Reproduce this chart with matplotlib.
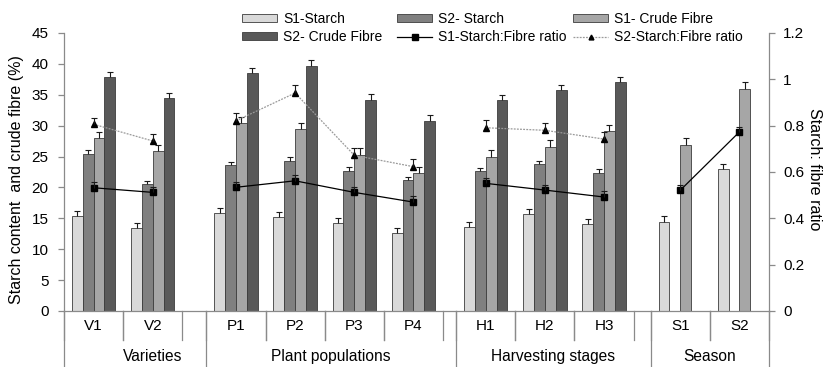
import numpy as np
import matplotlib.pyplot as plt
from matplotlib.patches import Patch
from matplotlib.lines import Line2D
from matplotlib.ticker import FuncFormatter

plt.rcParams['font.family'] = ['Liberation Sans', 'DejaVu Sans']

nan = np.nan

# Categories and groups
categories = ["V1", "V2", "P1", "P2", "P3", "P4", "H1", "H2", "H3", "S1", "S2"]
group_names = ["Varieties", "Plant populations", "Harvesting stages", "Season"]
group_sizes = [2, 4, 3, 2]

# Bars (left axis, %)
s1_starch = [15.4, 13.5, 15.8, 15.2, 14.2, 12.6, 13.6, 15.7, 14.1, 14.45, 23.0]
s1_starch_err = [0.8, 0.75, 0.8, 0.85, 0.86, 0.86, 0.8, 0.8, 0.8, 0.9, 0.8]
s2_starch = [25.4, 20.5, 23.6, 24.3, 22.7, 21.15, 22.6, 23.8, 22.4, nan, nan]
s2_starch_err = [0.65, 0.55, 0.5, 0.6, 0.55, 0.6, 0.5, 0.55, 0.55, nan, nan]
s1_fibre = [27.95, 25.9, 30.5, 29.4, 25.25, 22.3, 25.0, 26.5, 29.1, 26.9, 36.0]
s1_fibre_err = [1.07, 0.97, 0.97, 1.08, 1.1, 1.08, 1.1, 1.1, 1.08, 1.1, 1.1]
s2_fibre = [37.8, 34.4, 38.5, 39.7, 34.2, 30.8, 34.1, 35.7, 37.0, nan, nan]
s2_fibre_err = [0.86, 0.86, 0.9, 0.92, 0.92, 0.92, 0.9, 0.9, 0.9, nan, nan]

# Lines (right axis, ratio)
s1_ratio = [0.532, 0.512, 0.534, 0.562, 0.512, 0.470, 0.551, 0.522, 0.492, 0.521, 0.773]
s1_ratio_err = [0.024, 0.023, 0.022, 0.023, 0.024, 0.026, 0.024, 0.024, 0.024, 0.023, 0.023]
s2_ratio = [0.806, 0.734, 0.821, 0.941, 0.672, 0.623, 0.791, 0.78, 0.742, nan, nan]
s2_ratio_err = [0.028, 0.030, 0.032, 0.035, 0.033, 0.032, 0.033, 0.033, 0.032, nan, nan]

# layout, in category-slot units
BAR_W = 0.183
blank_after = [0.405, 0.22, 0.287, 0.0]
AXIS_GREY = '#8a8a8a'

slot_left = []
group_span = []
pos = 0.0
for size, blank in zip(group_sizes, blank_after):
    start = pos
    for _ in range(size):
        slot_left.append(pos)
        pos += 1
    pos += blank
    group_span.append((start, pos))
slot_left = np.array(slot_left)
centers = slot_left + 0.5
total = pos

fig = plt.figure(figsize=(8.25, 3.67), dpi=100)
ax = fig.add_axes([64 / 825, 1 - 311 / 367, 705 / 825, 278 / 367])
ax2 = ax.twinx()


def up_errorbar(axis, x, y, err, **kw):
    # Excel style "plus" error bars: only the upper whisker and cap
    x, y, err = np.asarray(x), np.asarray(y, float), np.asarray(err, float)
    m = ~np.isnan(y)
    eb = axis.errorbar(x[m], y[m], yerr=[np.zeros(m.sum()), err[m]], fmt='none',
                       ecolor='#1a1a1a', elinewidth=0.8, capsize=2.3, capthick=0.8, **kw)
    eb[1][0].set_visible(False)


bar_series = [
    ("S1-Starch", s1_starch, s1_starch_err, '#d9d9d9'),
    ("S2- Starch", s2_starch, s2_starch_err, '#808080'),
    ("S1- Crude Fibre", s1_fibre, s1_fibre_err, '#a6a6a6'),
    ("S2- Crude Fibre", s2_fibre, s2_fibre_err, '#595959'),
]
for k, (name, vals, errs, color) in enumerate(bar_series):
    x = centers + (k - 1.5) * BAR_W
    vals = np.asarray(vals, float)
    m = ~np.isnan(vals)
    ax.bar(x[m], vals[m], BAR_W, color=color, edgecolor='#3c3c3c', linewidth=0.6, zorder=2)
    up_errorbar(ax, x, vals, errs, zorder=3)

# ratio lines, one segment per group
idx0 = 0
for size in group_sizes:
    sl = slice(idx0, idx0 + size)
    ax2.plot(centers[sl], s1_ratio[sl], color='black', lw=0.9, marker='s', ms=4.5, zorder=4)
    seg = np.asarray(s2_ratio[sl], float)
    if not np.all(np.isnan(seg)):
        ax2.plot(centers[sl], seg, color='#9a9a9a', lw=0.9, linestyle=(0, (1.5, 1)),
                 marker='^', ms=4, mfc='black', mec='black', zorder=4)
    idx0 += size
up_errorbar(ax2, centers, s1_ratio, s1_ratio_err, zorder=5)
up_errorbar(ax2, centers, s2_ratio, s2_ratio_err, zorder=5)

# axes styling
ax.set_xlim(0, total)
ax.set_ylim(0, 45)
ax.set_yticks(np.arange(0, 46, 5))
ax2.set_ylim(0, 1.2)
ax2.set_yticks(np.arange(0, 1.21, 0.2))
ax2.yaxis.set_major_formatter(FuncFormatter(lambda v, p: f'{v:g}'))
ax.set_xticks([])

for a in (ax, ax2):
    for s in a.spines.values():
        s.set_visible(False)
ax.spines['left'].set_visible(True)
ax.spines['bottom'].set_visible(True)
ax2.spines['right'].set_visible(True)
for s in (ax.spines['left'], ax.spines['bottom'], ax2.spines['right']):
    s.set_color(AXIS_GREY)
    s.set_linewidth(0.9)
ax.tick_params(axis='y', direction='out', length=4, width=0.9, color=AXIS_GREY,
               labelsize=11, pad=7)
ax2.tick_params(axis='y', direction='out', length=4, width=0.9, color=AXIS_GREY,
                labelsize=11, pad=6)

# multi-level category axis
trans = ax.get_xaxis_transform()
for left in slot_left:
    for xe in (left, left + 1):
        ax.plot([xe, xe], [0, -0.104], transform=trans, color=AXIS_GREY, lw=0.9, clip_on=False)
long_edges = [0.0] + [end for _, end in group_span]
for xe in long_edges:
    ax.plot([xe, xe], [0, -0.25], transform=trans, color=AXIS_GREY, lw=0.9, clip_on=False)
for c, cat in zip(centers, categories):
    ax.text(c, -0.054, cat, transform=trans, ha='center', va='center', fontsize=11)
label_shift = [0.3, 0, 0, 0]
for (start, end), name, shift in zip(group_span, group_names, label_shift):
    ax.text((start + end) / 2 + shift, -0.165, name, transform=trans,
            ha='center', va='center', fontsize=11.2)

fig.text(17 / 825, 1 - 180 / 367, 'Starch content  and crude fibre (%)', rotation=90,
         ha='center', va='center', fontsize=11.5)
fig.text(815 / 825, 1 - 169 / 367, 'Starch: fibre ratio', rotation=270,
         ha='center', va='center', fontsize=11.5)


# legend: three columns placed like the Excel legend
def patch(c):
    return Patch(facecolor=c, edgecolor='#3c3c3c', linewidth=0.6)


legend_cols = [
    (242, [patch('#d9d9d9'), patch('#595959')], ["S1-Starch", "S2- Crude Fibre"]),
    (397, [patch('#808080'), Line2D([], [], color='black', lw=0.9, marker='s', ms=4)],
     ["S2- Starch", "S1-Starch:Fibre ratio"]),
    (573, [patch('#a6a6a6'), Line2D([], [], color='#9a9a9a', lw=0.9, linestyle=(0, (1.5, 1)),
                                    marker='^', ms=3.5, mfc='black', mec='black')],
     ["S1- Crude Fibre", "S2-Starch:Fibre ratio"]),
]
for x_px, handles, labels in legend_cols:
    fig.legend(handles, labels, loc='center left', bbox_to_anchor=(x_px / 825, 1 - 28 / 367),
               frameon=False, fontsize=10, handlelength=2.55, handleheight=0.5,
               labelspacing=0.3, handletextpad=0.4, borderpad=0, borderaxespad=0)

fig.savefig('out.png', dpi=100)
